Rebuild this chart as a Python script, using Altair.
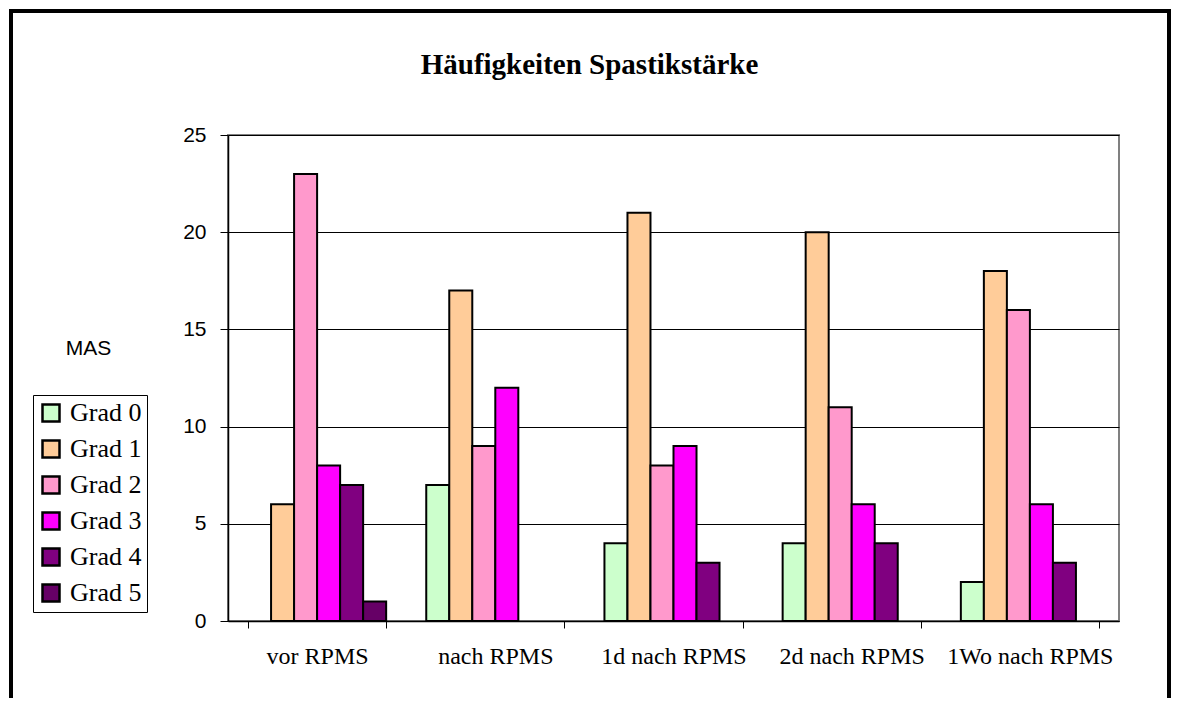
import altair as alt
import pandas as pd

categories = ["vor RPMS", "nach RPMS", "1d nach RPMS", "2d nach RPMS", "1Wo nach RPMS"]
grades = ["Grad 0", "Grad 1", "Grad 2", "Grad 3", "Grad 4", "Grad 5"]
grad0 = [0, 7, 4, 4, 2]
grad1 = [6, 17, 21, 20, 18]
grad2 = [23, 9, 8, 11, 16]
grad3 = [8, 12, 9, 6, 6]
grad4 = [7, 0, 3, 4, 3]
grad5 = [1, 0, 0, 0, 0]
colors = ["#CCFFCC", "#FFCC99", "#FF99CC", "#FF00FF", "#800080", "#660066"]
y_ticks = [0, 5, 10, 15, 20, 25]
title_text = "Häufigkeiten Spastikstärke"
y_title = "MAS"

series = [grad0, grad1, grad2, grad3, grad4, grad5]
rows = []
for g, vals in zip(grades, series):
    for c, v in zip(categories, vals):
        rows.append({"Zeitpunkt": c, "Grad": g, "value": v})
df = pd.DataFrame(rows)

W, H = 891, 486

bars = alt.Chart(df).transform_filter("datum.value > 0").mark_bar(
    stroke="black", strokeWidth=2
).encode(
    x=alt.X("Zeitpunkt:N", sort=categories,
            scale=alt.Scale(domain=categories, paddingInner=0.225, paddingOuter=0.1125),
            axis=alt.Axis(title=None, tickBand="extent", labelAngle=0,
                          labelFont="Liberation Serif", labelFontSize=24,
                          labelColor="black", tickColor="black", tickSize=7,
                          labelPadding=16, domainColor="black", domainWidth=1.5,
                          grid=False)),
    xOffset=alt.XOffset("Grad:N", sort=grades,
                        scale=alt.Scale(domain=grades, paddingInner=0, paddingOuter=0)),
    y=alt.Y("value:Q", scale=alt.Scale(domain=[0, 25], nice=False),
            axis=alt.Axis(values=y_ticks, title=y_title, titleAngle=0,
                          titleX=-140, titleY=213, titleAlign="center",
                          titleBaseline="middle", titleFont="Liberation Sans",
                          titleFontSize=21, titleFontWeight="normal", titleColor="black",
                          labelFont="Liberation Sans", labelFontSize=21,
                          labelColor="black", tickColor="black", tickSize=8,
                          labelPadding=14, domainColor="black", domainWidth=1.5,
                          grid=True, gridColor="black", gridWidth=1)),
    color=alt.Color("Grad:N", sort=grades,
                    scale=alt.Scale(domain=grades, range=colors),
                    legend=alt.Legend(title=None, orient="none", legendX=-195, legendY=260,
                                      fillColor="white", strokeColor="black",
                                      padding=5, symbolType="square", symbolSize=289,
                                      symbolStrokeColor="black", symbolStrokeWidth=2.5,
                                      labelFont="Liberation Serif", labelFontSize=26,
                                      labelColor="black", labelOffset=6,
                                      rowPadding=8, labelLimit=200)),
)

border = alt.Chart(alt.Data(values=[{"a": 1}])).mark_rect(
    fillOpacity=0, stroke="black", strokeWidth=4
).encode(
    x=alt.value(-217), x2=alt.value(W + 50),
    y=alt.value(-124), y2=alt.value(H + 200),
)

title = alt.Chart(alt.Data(values=[{"a": 1}])).mark_text(
    font="Liberation Serif", fontSize=29, fontWeight="bold", color="black",
    align="center", baseline="middle"
).encode(
    x=alt.value(361.5), y=alt.value(-70), text=alt.value(title_text)
)

chart = alt.layer(border, bars, title).properties(
    width=W, height=H,
    padding={"left": 220, "top": 127, "right": 52, "bottom": 77},
    autosize="none",
).configure_view(
    stroke="#808080", strokeWidth=2
)

chart.save("out.html", embed_options={"renderer": "svg", "actions": False})
